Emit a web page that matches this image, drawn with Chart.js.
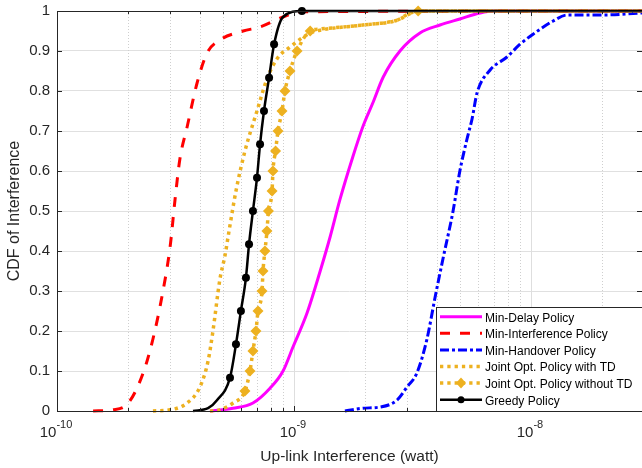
<!DOCTYPE html>
<html>
<head>
<meta charset="utf-8">
<script src="https://cdn.jsdelivr.net/npm/chart.js@4/dist/chart.umd.min.js"></script>
<style>
  html, body { margin: 0; padding: 0; background: #fff; }
  #wrap { width: 642px; height: 468px; position: relative; }
</style>
</head>
<body>
<div id="wrap"><canvas id="cdfChart"></canvas></div>
<script>
// Up-link interference CDF per policy (x in watt, y = CDF)

const xTickValues = [1e-10, 1e-9, 1e-8];
const xTickExponents = ['-10', '-9', '-8'];
const yTickStep = 0.1;

const minDelayX = [4.42e-10, 5.53e-10, 6.71e-10, 7.92e-10, 8.99e-10, 9.90e-10, 1.135e-9, 1.29e-9, 1.42e-9, 1.56e-9, 1.77e-9, 1.95e-9, 2.15e-9, 2.38e-9, 2.80e-9, 3.40e-9, 4.13e-9, 5.01e-9, 6.09e-9, 6.92e-9, 2.94e-8];
const minDelayY = [0, 0.007, 0.02, 0.057, 0.1, 0.16, 0.245, 0.35, 0.435, 0.527, 0.635, 0.71, 0.77, 0.835, 0.9, 0.945, 0.965, 0.98, 0.995, 1, 1];

const minInterfX = [1.42e-10, 1.72e-10, 2.0e-10, 2.31e-10, 2.54e-10, 2.77e-10, 3.0e-10, 3.15e-10, 3.30e-10, 3.54e-10, 3.90e-10, 4.30e-10, 4.87e-10, 6.10e-10, 7.19e-10, 8.99e-10, 1.06e-9, 2.94e-8];
const minInterfY = [0, 0.003, 0.02, 0.095, 0.18, 0.285, 0.41, 0.53, 0.63, 0.71, 0.82, 0.895, 0.9275, 0.95, 0.96, 0.985, 0.998, 1];

const minHandoverX = [1.64e-9, 1.95e-9, 2.31e-9, 2.72e-9, 3.00e-9, 3.30e-9, 3.64e-9, 3.94e-9, 4.25e-9, 4.69e-9, 5.01e-9, 5.37e-9, 5.64e-9, 5.92e-9, 6.71e-9, 7.92e-9, 8.99e-9, 1.02e-8, 1.24e-8, 1.42e-8, 2.01e-8, 2.94e-8];
const minHandoverY = [0, 0.007, 0.01, 0.027, 0.06, 0.095, 0.18, 0.285, 0.38, 0.5, 0.6, 0.68, 0.73, 0.795, 0.852, 0.885, 0.917, 0.942, 0.975, 0.99, 0.99, 0.995];

const jointTdX = [2.54e-10, 3.0e-10, 3.54e-10, 4.01e-10, 4.34e-10, 4.55e-10, 4.87e-10, 5.12e-10, 5.32e-10, 5.69e-10, 6.21e-10, 6.98e-10, 7.69e-10, 8.47e-10, 9.62e-10, 1.17e-9, 1.29e-9, 1.95e-9, 2.72e-9, 3.09e-9, 3.40e-9, 2.94e-8];
const jointTdY = [0, 0.003, 0.02, 0.06, 0.125, 0.2, 0.33, 0.39, 0.45, 0.55, 0.65, 0.75, 0.83, 0.88, 0.91, 0.945, 0.952, 0.965, 0.977, 0.995, 1, 1];

const jointNoTdX = [4.42e-10, 4.87e-10, 5.53e-10, 6.21e-10, 6.52e-10, 6.71e-10, 6.91e-10, 7.05e-10, 7.33e-10, 7.40e-10, 7.54e-10, 7.69e-10, 7.80e-10, 8.08e-10, 8.15e-10, 8.36e-10, 8.56e-10, 8.90e-10, 9.16e-10, 9.62e-10, 1.03e-9, 1.17e-9, 1.29e-9, 1.95e-9, 2.72e-9, 3.34e-9, 2.94e-8];
const jointNoTdY = [0, 0.003, 0.02, 0.05, 0.1, 0.15, 0.2, 0.25, 0.3, 0.35, 0.4, 0.45, 0.5, 0.55, 0.6, 0.65, 0.7, 0.75, 0.8, 0.85, 0.9, 0.95, 0.955, 0.965, 0.977, 1, 1];
const jointNoTdMark = [0, 0, 0, 1, 1, 1, 1, 1, 1, 1, 1, 1, 1, 1, 1, 1, 1, 1, 1, 1, 1, 1, 0, 0, 0, 1, 0];

const greedyX = [3.75e-10, 4.34e-10, 4.73e-10, 5.37e-10, 5.69e-10, 5.97e-10, 6.27e-10, 6.46e-10, 6.71e-10, 6.98e-10, 7.19e-10, 7.47e-10, 7.85e-10, 8.24e-10, 8.99e-10, 1.08e-9, 2.94e-8];
const greedyY = [0, 0.007, 0.027, 0.0833, 0.1667, 0.25, 0.3333, 0.4167, 0.5, 0.5833, 0.6667, 0.75, 0.8333, 0.9167, 0.985, 1, 1];
const greedyMark = [0, 0, 0, 1, 1, 1, 1, 1, 1, 1, 1, 1, 1, 1, 0, 1, 0];

const FONT = '"Liberation Sans", Arial, Helvetica, sans-serif';
const AXIS_COLOR = '#262626';

function pts(xs, ys) {
    return xs.map((v, i) => ({ x: v, y: ys[i] }));
}

// Grid, ticks, box, x labels with exponents, and the inset legend
const matlabAxes = {
    id: 'matlabAxes',
    beforeDatasetsDraw(chart) {
        const { ctx, chartArea: a, scales: { x } } = chart;
        ctx.save();
        ctx.lineWidth = 1;
        xTickValues.forEach(d => {
            for (let k = 1; k <= 9; k++) {
                const v = k * d;
                if (v < x.min || v > x.max) continue;
                const px = Math.round(x.getPixelForValue(v)) + 0.5;
                ctx.strokeStyle = k === 1 ? '#dedede' : '#cfcfcf';
                ctx.setLineDash(k === 1 ? [] : [1, 2]);
                ctx.beginPath();
                ctx.moveTo(px, a.top);
                ctx.lineTo(px, a.bottom);
                ctx.stroke();
            }
        });
        ctx.restore();
    },
    afterDraw(chart) {
        const { ctx, chartArea: a, scales: { x, y } } = chart;
        ctx.save();
        ctx.strokeStyle = AXIS_COLOR;
        ctx.lineWidth = 1;
        ctx.setLineDash([]);

        // box
        ctx.beginPath();
        ctx.moveTo(a.left + 0.5, a.top);
        ctx.lineTo(a.left + 0.5, a.bottom + 0.5);
        ctx.lineTo(a.right, a.bottom + 0.5);
        ctx.moveTo(a.left, a.top + 0.5);
        ctx.lineTo(a.right, a.top + 0.5);
        ctx.stroke();

        // inside ticks
        ctx.beginPath();
        y.ticks.forEach(t => {
            const py = Math.round(y.getPixelForValue(t.value)) + 0.5;
            ctx.moveTo(a.left, py); ctx.lineTo(a.left + 5, py);
            ctx.moveTo(a.right, py); ctx.lineTo(a.right - 5, py);
        });
        xTickValues.forEach(d => {
            for (let k = 1; k <= 9; k++) {
                const v = k * d;
                if (v < x.min || v > x.max) continue;
                const px = Math.round(x.getPixelForValue(v)) + 0.5;
                const len = k === 1 ? 5 : 3;
                ctx.moveTo(px, a.bottom); ctx.lineTo(px, a.bottom - len);
                ctx.moveTo(px, a.top); ctx.lineTo(px, a.top + len);
            }
        });
        ctx.stroke();

        // x tick labels: 10 with raised exponent
        ctx.fillStyle = AXIS_COLOR;
        ctx.textBaseline = 'alphabetic';
        ctx.textAlign = 'left';
        xTickValues.forEach((v, i) => {
            const px = x.getPixelForValue(v);
            ctx.font = '15px ' + FONT;
            const wb = ctx.measureText('10').width;
            ctx.font = '11px ' + FONT;
            const we = ctx.measureText(xTickExponents[i]).width;
            const sx = px - (wb + we) / 2 - 1;
            ctx.font = '15px ' + FONT;
            ctx.fillText('10', sx, a.bottom + 26);
            ctx.font = '11px ' + FONT;
            ctx.fillText(xTickExponents[i], sx + wb, a.bottom + 17);
        });

        // legend
        const lx = 436.5, ly = 307.5, lw = 210, lh = 104;
        ctx.fillStyle = '#fff';
        ctx.fillRect(lx, ly, lw, lh);
        ctx.strokeStyle = AXIS_COLOR;
        ctx.strokeRect(lx, ly, lw, lh);
        chart.data.datasets.forEach((ds, row) => {
            const ry = 316.7 + row * 16.6;
            ctx.save();
            ctx.strokeStyle = ds.borderColor;
            ctx.lineWidth = ds.borderWidth;
            ctx.setLineDash(ds.borderDash || []);
            ctx.beginPath();
            ctx.moveTo(440, ry);
            ctx.lineTo(482, ry);
            ctx.stroke();
            ctx.setLineDash([]);
            ctx.fillStyle = ds.borderColor;
            if (ds.legendMarker === 'circle') {
                ctx.beginPath();
                ctx.arc(461, ry, 3.5, 0, Math.PI * 2);
                ctx.fill();
            } else if (ds.legendMarker === 'diamond') {
                ctx.beginPath();
                ctx.moveTo(461, ry - 5.5);
                ctx.lineTo(466, ry);
                ctx.lineTo(461, ry + 5.5);
                ctx.lineTo(456, ry);
                ctx.closePath();
                ctx.fill();
            }
            ctx.restore();
            ctx.fillStyle = '#000';
            ctx.font = '12px ' + FONT;
            ctx.textBaseline = 'middle';
            ctx.fillText(ds.label, 485, ry + 1.5);
        });
        ctx.restore();
    }
};

const ctx = document.getElementById('cdfChart').getContext('2d');
new Chart(ctx, {
    type: 'line',
    data: {
        datasets: [{
            label: 'Min-Delay Policy',
            data: pts(minDelayX, minDelayY),
            borderColor: '#ff00ff',
            borderWidth: 3,
            pointRadius: 0,
            order: 5
        }, {
            label: 'Min-Interference Policy',
            data: pts(minInterfX, minInterfY),
            borderColor: '#ff0000',
            borderWidth: 3,
            borderDash: [10, 10],
            pointRadius: 0,
            order: 4
        }, {
            label: 'Min-Handover Policy',
            data: pts(minHandoverX, minHandoverY),
            borderColor: '#0000ff',
            borderWidth: 3,
            borderDash: [9, 3, 3, 3],
            pointRadius: 0,
            order: 3
        }, {
            label: 'Joint Opt. Policy with TD',
            data: pts(jointTdX, jointTdY),
            borderColor: '#edb120',
            borderWidth: 3.5,
            borderDash: [3.3, 4],
            pointRadius: 0,
            order: 2
        }, {
            label: 'Joint Opt. Policy without TD',
            data: pts(jointNoTdX, jointNoTdY),
            borderColor: '#edb120',
            borderWidth: 3.5,
            borderDash: [3.3, 4],
            pointStyle: 'rectRot',
            pointRadius: jointNoTdMark.map(m => m ? 5.5 : 0),
            pointBackgroundColor: '#edb120',
            pointBorderColor: '#edb120',
            pointBorderWidth: 0,
            legendMarker: 'diamond',
            order: 1
        }, {
            label: 'Greedy Policy',
            data: pts(greedyX, greedyY),
            borderColor: '#000000',
            borderWidth: 2.5,
            pointStyle: 'circle',
            pointRadius: greedyMark.map(m => m ? 4 : 0),
            pointBackgroundColor: '#000000',
            pointBorderColor: '#000000',
            pointBorderWidth: 0,
            legendMarker: 'circle',
            order: 0
        }]
    },
    options: {
        responsive: true,
        maintainAspectRatio: false,
        animation: false,
        cubicInterpolationMode: 'monotone',
        clip: false,
        layout: { padding: { top: 11, right: 0, left: 0, bottom: 0 } },
        plugins: {
            legend: { display: false },
            tooltip: { enabled: false }
        },
        scales: {
            x: {
                type: 'logarithmic',
                min: 1e-10,
                max: 2.94e-8,
                grid: { display: false },
                border: { display: false },
                ticks: { display: false },
                afterFit: s => { s.height = 57; s.paddingLeft = 0; s.paddingRight = 0; },
                title: {
                    display: true,
                    text: 'Up-link Interference (watt)',
                    color: AXIS_COLOR,
                    font: { family: FONT, size: 15.5 },
                    padding: { top: 0, bottom: 2 }
                }
            },
            y: {
                min: 0,
                max: 1,
                grid: { color: '#e0e0e0', lineWidth: 1, drawTicks: false },
                border: { display: false },
                ticks: {
                    stepSize: yTickStep,
                    padding: 7,
                    color: AXIS_COLOR,
                    font: { family: FONT, size: 15 },
                    callback: v => String(Math.round(v * 10) / 10)
                },
                afterFit: s => { s.width = 57; s.paddingTop = 0; s.paddingBottom = 0; },
                title: {
                    display: true,
                    text: 'CDF of Interference',
                    color: AXIS_COLOR,
                    font: { family: FONT, size: 16 },
                    padding: { top: 5, bottom: 0 }
                }
            }
        }
    },
    plugins: [matlabAxes]
});
</script>
</body>
</html>
